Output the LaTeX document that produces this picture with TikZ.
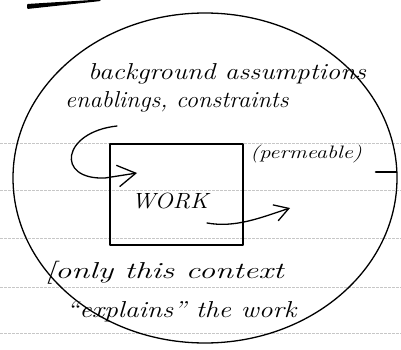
\documentclass[tikz,border=0pt]{standalone}
\usetikzlibrary{arrows.meta,shapes.geometric}
\begin{document}
\begin{tikzpicture}[x=1pt,y=-1pt,
  ink/.style={black,line cap=round,line join=round},
  pen/.style={ink,line width=1.3pt},
  ruled/.style={black!22,line width=0.5pt,dash pattern=on 2.5pt off 1.5pt},
  hand/.style={font=\fontsize{23}{25}\selectfont\itshape,inner sep=0pt},
  smallhand/.style={font=\fontsize{18}{20}\selectfont\itshape,inner sep=0pt},
  barb/.style={-{Straight Barb[length=#1,width=1.2*#1,line width=1.3pt]}},
]
\useasboundingbox (0,0) rectangle (401,350);

% faint ruling of the notebook page
\foreach \yy in {143,190,238,287,333}
  \draw[ruled] (0,\yy) -- (401,\yy);

% heavy stroke at the top edge
\fill[ink,rounded corners=1pt] (27,4) -- (100,-0.5) -- (101,1) -- (27,9) -- cycle;

% context ring
\node[draw,pen,ellipse,minimum width=384pt,minimum height=330pt,inner sep=0pt] (ring) at (205,178) {};
\draw[ink,line width=2.6pt] (376,172) -- (396,172);

% the work itself
\node[draw,ink,line width=1.6pt,minimum width=133pt,minimum height=101pt,inner sep=0pt] (work) at (176.5,194.5) {};
\node[hand,font=\fontsize{22}{24}\selectfont\itshape,anchor=base,xscale=1.1] (worklbl) at (170,208) {WORK};

% labels
\node[hand,anchor=base west,xscale=1.18] (bg) at (88,80) {background assumptions};
\node[hand,anchor=base west,xscale=1.06] (en) at (65,107) {enablings, constraints};
\node[smallhand,anchor=base west,xscale=1.25] (perm) at (250,158) {(permeable)};
\node[hand,anchor=base west,xscale=1.42] (only) at (45,278) {[only this context};
\node[hand,anchor=base west,xscale=1.2] (expl) at (66,317) {``explains'' the work};

% arrows into and out of the work
\coordinate (inStart) at (117,126);
\coordinate (inTip) at (137,173);
\coordinate (outStart) at (207,223);
\coordinate (outTip) at (290,208);
\draw[pen,barb=18pt] (inStart) .. controls (62,132) and (55,180) .. (105,178) -- (inTip);
\draw[pen,barb=14pt] (outStart) .. controls (235,228) and (260,218) .. (outTip);
\end{tikzpicture}
\end{document}
